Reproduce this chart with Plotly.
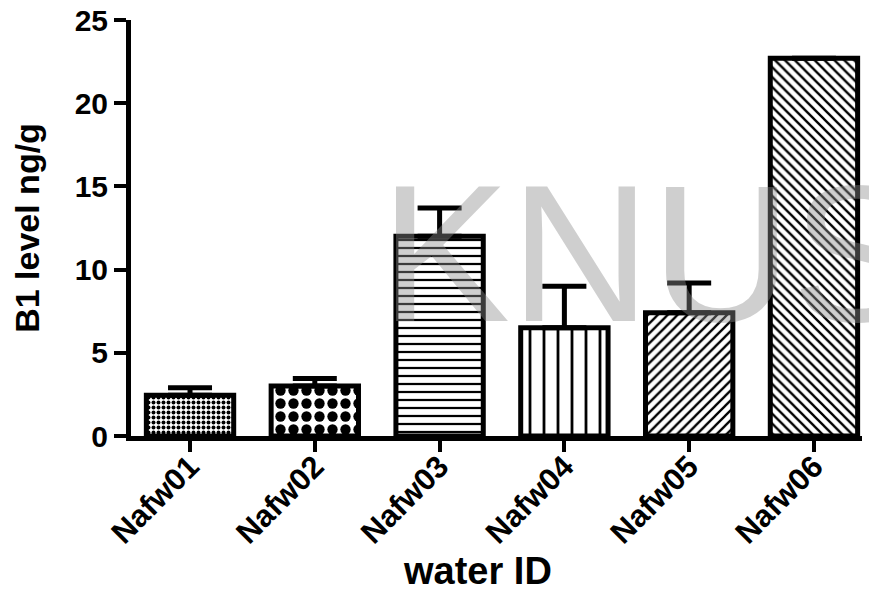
import plotly.graph_objects as go

categories = ["Nafw01", "Nafw02", "Nafw03", "Nafw04", "Nafw05", "Nafw06"]
values = [2.45, 3.0, 12.0, 6.5, 7.4, 22.7]
errors = [0.45, 0.45, 1.7, 2.5, 1.8, 0.0]
y_ticks = [0, 5, 10, 15, 20, 25]

pattern_shapes = [".", ".", "-", "|", "/", "\\"]
pattern_sizes = [5, 13, 8, 14, 7, 7]
pattern_solid = [0.5, 0.5, 0.28, 0.2, 0.33, 0.33]

FONT = "Liberation Sans, Arial, sans-serif"

fig = go.Figure()
fig.add_trace(go.Bar(
    x=categories,
    y=values,
    width=0.7,
    marker=dict(
        color="white",
        line=dict(color="black", width=5),
        pattern=dict(
            shape=pattern_shapes,
            size=pattern_sizes,
            solidity=pattern_solid,
            fgcolor="black",
            bgcolor="white",
            fgopacity=1,
            fillmode="overlay",
        ),
    ),
    error_y=dict(
        type="data",
        symmetric=False,
        array=errors,
        arrayminus=[0] * len(errors),
        color="black",
        thickness=5,
        width=22,
    ),
    showlegend=False,
))

fig.add_annotation(
    text="KNUS", xref="paper", yref="paper",
    x=0.338, y=0.44, xanchor="left", yanchor="middle",
    showarrow=False,
    font=dict(family=FONT, size=195, color="rgba(140,140,140,0.42)"),
)

fig.add_annotation(
    text="<b>water ID</b>", xref="paper", yref="paper",
    x=0.474, y=-0.325, xanchor="center", yanchor="middle",
    showarrow=False,
    font=dict(family=FONT, size=38, color="black"),
)

fig.update_layout(
    width=869, height=602,
    margin=dict(l=131, r=7, t=20, b=166),
    paper_bgcolor="white", plot_bgcolor="white",
    font=dict(family=FONT, color="black"),
    xaxis=dict(
        range=[-0.473, 5.385],
        showline=True, linecolor="black", linewidth=5,
        ticks="outside", ticklen=11, tickwidth=4, tickcolor="black",
        tickangle=-45,
        ticklabelstandoff=-16,
        tickfont=dict(size=31, family=FONT, weight="bold"),
        showgrid=False, zeroline=False, automargin=False,
    ),
    yaxis=dict(
        range=[0, 25],
        tickvals=y_ticks,
        showline=True, linecolor="black", linewidth=5,
        ticks="outside", ticklen=12, tickwidth=4, tickcolor="black",
        tickfont=dict(size=30, family=FONT, weight="bold"),
        title=dict(text="<b>B1 level ng/g</b>", font=dict(size=34, family=FONT), standoff=26),
        showgrid=False, zeroline=False, automargin=False,
    ),
)

fig.write_html("out.html", config={"displayModeBar": False},
               post_script="document.body.style.margin='0px';")
